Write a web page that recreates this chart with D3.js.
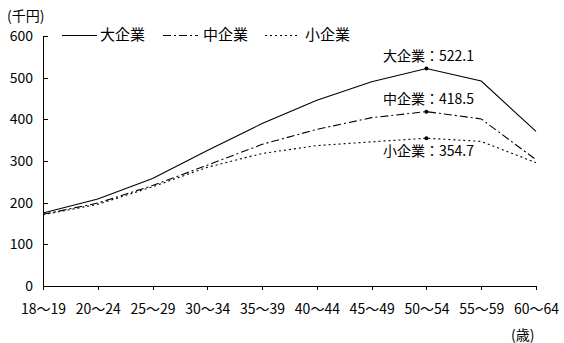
<!DOCTYPE html>
<html>
<head>
<meta charset="utf-8">
<script src="https://cdn.jsdelivr.net/npm/d3@7"></script>
<style>
  html, body { margin: 0; padding: 0; background: #fff; }
  svg { display: block; }
  text { font-family: "Noto Sans CJK JP", "Noto Sans", sans-serif; fill: #000; }
</style>
</head>
<body>
<svg id="chart" width="564" height="343"></svg>
<script>
// Age brackets (x axis)
const ageGroups = ["18〜19", "20〜24", "25〜29", "30〜34", "35〜39", "40〜44", "45〜49", "50〜54", "55〜59", "60〜64"];

// Monthly wage by company size (thousand yen)
const largeFirms  = [175, 209, 258, 325, 390, 446, 490, 522.1, 492, 371];
const mediumFirms = [172, 199, 241, 290, 340, 376, 404, 418.5, 401, 303];
const smallFirms  = [171, 196, 238, 285, 318, 337, 346, 354.7, 347, 296];

const yTicks = [0, 100, 200, 300, 400, 500, 600];

const seriesNames = ["大企業", "中企業", "小企業"];
const seriesValues = [largeFirms, mediumFirms, smallFirms];
const dashStyles = [null, "8,3,2,3", "2,3"];
const peakIndex = 7;

const svg = d3.select("#chart");

const x = d3.scalePoint().domain(ageGroups).range([43, 536]);
const y = d3.scaleLinear().domain([0, 600]).range([286, 36]);

// Y axis: ticks point inward
const yAxis = svg.append("g").attr("transform", "translate(43,0)")
  .call(d3.axisRight(y).tickValues(yTicks).tickSize(5).tickFormat(""));
yAxis.select(".domain").attr("d", `M5,${y(600)}H0V${y(0)}`);
yAxis.selectAll("line, path").attr("stroke", "#000").attr("shape-rendering", "crispEdges");

svg.append("g").selectAll("text").data(yTicks).join("text")
  .attr("x", 33).attr("y", d => y(d)).attr("dy", "0.36em")
  .attr("text-anchor", "end").attr("font-size", 14)
  .text(d => d);

// X axis: ticks point outward
const xAxis = svg.append("g").attr("transform", `translate(0,${y(0)})`)
  .call(d3.axisBottom(x).tickSize(4).tickSizeOuter(0).tickPadding(14));
xAxis.select(".domain").attr("stroke", "#000").attr("shape-rendering", "crispEdges");
xAxis.selectAll(".tick line").attr("stroke", "#000").attr("shape-rendering", "crispEdges");
xAxis.selectAll(".tick text")
  .attr("font-family", '"Noto Sans CJK JP", sans-serif')
  .attr("font-size", 14).attr("fill", "#000");

// Units
svg.append("text").attr("x", 7).attr("y", 21).attr("font-size", 14).text("(千円)");
svg.append("text").attr("x", 511).attr("y", 340).attr("font-size", 14).text("(歳)");

// Series lines
const line = d3.line().x((d, i) => x(ageGroups[i])).y(d => y(d));
seriesValues.forEach((vals, k) => {
  svg.append("path").datum(vals)
    .attr("d", line)
    .attr("fill", "none").attr("stroke", "#000").attr("stroke-width", 1.1)
    .attr("stroke-dasharray", dashStyles[k]);
});

// Peak markers and value labels
const labelBaselines = [61, 104, 156];
seriesValues.forEach((vals, k) => {
  const v = vals[peakIndex];
  svg.append("circle").attr("cx", x(ageGroups[peakIndex])).attr("cy", y(v)).attr("r", 2).attr("fill", "#000");
  svg.append("text").attr("x", 383).attr("y", labelBaselines[k]).attr("font-size", 14)
    .text(`${seriesNames[k]}：${d3.format(".1f")(v)}`);
});

// Legend
const legendItems = [
  { x0: 62, x1: 97, tx: 100 },
  { x0: 163, x1: 198, tx: 203 },
  { x0: 265, x1: 300, tx: 305 }
];
legendItems.forEach((it, k) => {
  svg.append("line").attr("x1", it.x0).attr("x2", it.x1).attr("y1", 35.5).attr("y2", 35.5)
    .attr("stroke", "#000").attr("stroke-width", 1.1).attr("stroke-dasharray", dashStyles[k]);
  svg.append("text").attr("x", it.tx).attr("y", 35).attr("dy", "0.36em").attr("font-size", 15)
    .text(seriesNames[k]);
});
</script>
</body>
</html>
